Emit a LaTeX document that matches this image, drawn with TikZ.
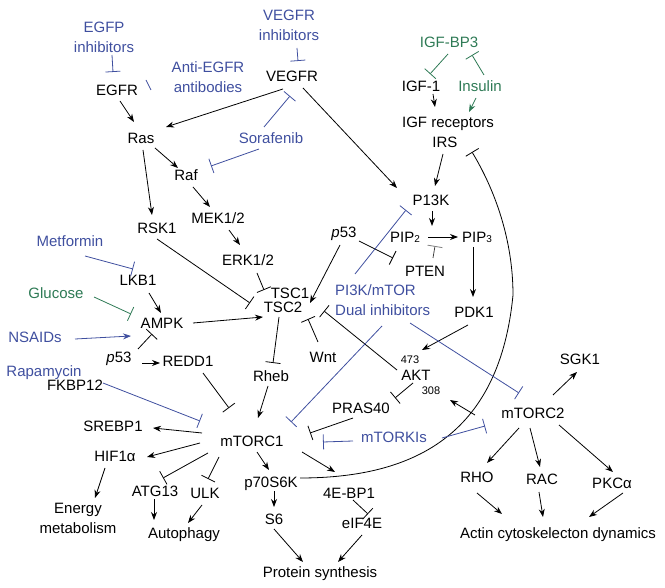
\documentclass[tikz,border=0pt]{standalone}
\usepackage{fontspec}
\setmainfont{Liberation Sans}
\usepackage{tikz}
\usetikzlibrary{calc}
\usetikzlibrary{arrows.meta}
\definecolor{drugblue}{RGB}{63,79,159}
\definecolor{natgreen}{RGB}{46,122,85}
\newcommand{\sub}[1]{{\fontsize{10}{10}\selectfont #1}}

\begin{document}
\begin{tikzpicture}[x=1pt,y=-1pt,
	act/.style={-{Stealth[length=8pt,width=6pt]}},
	inh/.style={-{Bar[width=15pt]}},
	drug/.style={text=drugblue},
	nat/.style={text=natgreen}]
		\useasboundingbox (0,0) rectangle (665,588);

		\begin{scope}[every node/.style={font=\fontsize{15}{20}\selectfont,inner sep=2pt,text height=10.8pt,text depth=0pt}]
		% receptors and upstream
		\node (egfr) at (117,90) {EGFR};
		\node (vegfr) at (292,76) {VEGFR};
		\node (ras) at (141,138) {Ras};
		\node (raf) at (186,175) {Raf};
		\node (rsk1) at (157,228) {RSK1};
		\node (mek) at (218,218) {MEK1/2};
		\node (erk) at (248,260) {ERK1/2};
		\node (igf1) at (421,86) {IGF-1};
		\node (igfr) at (448,122) {IGF receptors};
		\node (irs) at (445,142) {IRS};
		\node (p13k) at (431,200) {P13K};
		\node (pip2) at (405,237) {PIP\sub{2}};
		\node (pip3) at (477,237) {PIP\sub{3}};
		\node (pten) at (425,271) {PTEN};
		\node (pdk1) at (474,312) {PDK1};
		\node (p53a) at (344,232) {\textit{p}53};
		\node (tsc1) at (290,293) {TSC1};
		\node (tsc2) at (283,307) {TSC2};
		\node (lkb1) at (138,280) {LKB1};
		\node (ampk) at (162,323) {AMPK};
		\node (p53b) at (119,357) {\textit{p}53};
		\node (redd1) at (188,361) {REDD1};
		\node (fkbp12) at (75,385) {FKBP12};
		\node (rheb) at (271,376) {Rheb};
		\node (wnt) at (323,357) {Wnt};
		\node (akt) at (416,375) {AKT};
		\node[font=\fontsize{11}{11}\selectfont,text height=8pt] (l473) at (410,360) {473};
		\node[font=\fontsize{11}{11}\selectfont,text height=8pt] (l308) at (431,391) {308};
		\node (pras40) at (361,408) {PRAS40};
		% mTOR complexes and outputs
		\node (mtorc1) at (252,441) {mTORC1};
		\node (mtorc2) at (533,413) {mTORC2};
		\node (sgk1) at (580,359) {SGK1};
		\node (rho) at (477,477) {RHO};
		\node (rac) at (542,479) {RAC};
		\node (pkca) at (612,483) {PKCα};
		\node (actin) at (558,533) {Actin cytoskelecton dynamics};
		\node (srebp1) at (113,426) {SREBP1};
		\node (hif1a) at (115,456) {HIF1α};
		\node (atg13) at (155,491) {ATG13};
		\node (ulk) at (205,493) {ULK};
		\node (autophagy) at (184,533) {Autophagy};
		\node (p70s6k) at (271,482) {p70S6K};
		\node (s6) at (274,519) {S6};
		\node (protein) at (320,572) {Protein synthesis};
		\node (ebp1) at (349,493) {4E-BP1};
		\node (eif4e) at (362,523) {eIF4E};
		% drugs and other inputs
		\node[drug] (sorafenib) at (271,138) {Sorafenib};
		\node[nat] (igfbp3) at (449,42) {IGF-BP3};
		\node[nat] (insulin) at (480,86) {Insulin};
		\node[drug] (metformin) at (70,241) {Metformin};
		\node[nat] (glucose) at (56,293) {Glucose};
		\node[drug] (nsaids) at (35,337) {NSAIDs};
		\node[drug] (rapamycin) at (44,371) {Rapamycin};
		\node[drug] (mtorkis) at (394,437) {mTORKIs};
		\end{scope}

		\begin{scope}[every node/.style={font=\fontsize{15}{20}\selectfont,inner sep=2pt}]
		\node[drug,align=center] (egfpi) at (104,37) {EGFP\\inhibitors};
		\node[drug,align=center] (antiegfr) at (208,77) {Anti-EGFR\\antibodies};
		\node[drug,align=center] (vegfri) at (289,25) {VEGFR\\inhibitors};
		\node[drug,align=left,anchor=west] (pimtor) at (333,300) {PI3K/mTOR\\Dual inhibitors};
		\node[align=center] (energy) at (78,518) {Energy\\metabolism};
		\end{scope}

		\begin{scope}[every edge/.style={draw=black,line width=0.8pt}]
		\path [act] ($(egfr)+(3,11)$) edge ($(ras)+(-7,-16)$);
		\path [act] ($(vegfr)+(-9,13)$) edge ($(ras)+(25,-11)$);
		\path [act] ($(ras)+(14,10)$) edge ($(raf)+(-8,-7)$);
		\path [act] ($(ras)+(2,12)$) edge ($(rsk1)+(-5,-13)$);
		\path [act] ($(raf)+(7,12)$) edge ($(mek)+(-8,-11)$);
		\path [act] ($(mek)+(11,12)$) edge ($(erk)+(-8,-15)$);
		\path [act] ($(vegfr)+(11,12)$) edge ($(p13k)+(-34,-12)$);
		\path [act] ($(igf1)+(12,8)$) edge ($(igfr)+(-13,-15)$);
		\path [act] ($(irs)+(-2,12)$) edge ($(p13k)+(4,-14)$);
		\path [act] ($(p13k)+(1,11)$) edge ($(pip2)+(27,-11)$);
		\path [act] ($(pip2)+(23,0)$) edge ($(pip3)+(-19,0)$);
		\path [act] ($(pip3)+(-4,10)$) edge ($(pdk1)+(-1,-15)$);
		\path [act] ($(pdk1)+(-6,13)$) edge ($(akt)+(6,-25)$);
		\path [act] ($(p53a)+(-4,13)$) edge ($(tsc2)+(27,-4)$);
		\path [act] ($(lkb1)+(11,13)$) edge ($(ampk)+(-1,-10)$);
		\path [act] ($(ampk)+(31,0)$) edge ($(tsc2)+(-20,10)$);
		\path [act] ($(p53b)+(23,6)$) edge ($(redd1)+(-28,2)$);
		\path [act] ($(rheb)+(-3,10)$) edge ($(mtorc1)+(6,-23)$);
		\path [act] ($(mtorc2)+(-58,2)$) edge ($(akt)+(34,25)$);
		\path [act] ($(mtorc2)+(20,-18)$) edge ($(sgk1)+(-3,13)$);
		\path [act] ($(mtorc2)+(-14,15)$) edge ($(rho)+(10,-14)$);
		\path [act] ($(mtorc2)+(-3,15)$) edge ($(rac)+(-2,-12)$);
		\path [act] ($(mtorc2)+(26,12)$) edge ($(pkca)+(1,-11)$);
		\path [act] ($(rho)+(0,16)$) edge ($(actin)+(-56,-19)$);
		\path [act] ($(rac)+(-3,13)$) edge ($(actin)+(-15,-16)$);
		\path [act] ($(pkca)+(11,10)$) edge ($(actin)+(31,-16)$);
		\path [act] ($(mtorc1)+(-50,-8)$) edge ($(srebp1)+(40,2)$);
		\path [act] ($(mtorc1)+(-52,2)$) edge ($(hif1a)+(32,1)$);
		\path [act] ($(hif1a)+(-10,12)$) edge ($(energy)+(17,-20)$);
		\path [act] ($(atg13)+(-1,8)$) edge ($(autophagy)+(-30,-13)$);
		\path [act] ($(ulk)+(-3,12)$) edge ($(autophagy)+(4,-10)$);
		\path [act] ($(mtorc1)+(5,11)$) edge ($(p70s6k)+(-2,-12)$);
		\path [act] ($(p70s6k)+(3,9)$) edge ($(s6)+(0,-12)$);
		\path [act] ($(s6)+(0,10)$) edge ($(protein)+(-17,-10)$);
		\path [act] ($(mtorc1)+(50,11)$) edge ($(ebp1)+(-14,-21)$);
		\path [act] ($(eif4e)+(0,12)$) edge ($(protein)+(18,-10)$);

		\path [inh] ($(p53a)+(15,9)$) edge ($(pip2)+(-12,21)$);
		\path [inh] ($(erk)+(9,13)$) edge ($(tsc1)+(-26,-3)$);
		\path [inh] ($(rsk1)+(0,11)$) edge ($(tsc2)+(-33,-4)$);
		\path [inh] ($(p53b)+(19,-8)$) edge ($(ampk)+(-10,11)$);
		\path [inh] ($(tsc2)+(-4,10)$) edge ($(rheb)+(2,-13)$);
		\path [inh] ($(wnt)+(-5,-15)$) edge ($(tsc2)+(25,12)$);
		\path [inh] ($(akt)+(-19,-5)$) edge ($(tsc2)+(41,4)$);
		\path [inh] ($(akt)+(-3,8)$) edge ($(pras40)+(34,-10)$);
		\path [inh] ($(pras40)+(-8,10)$) edge ($(mtorc1)+(58,-8)$);
		\path [inh] ($(redd1)+(15,12)$) edge ($(mtorc1)+(-23,-33)$);
		\path [inh] ($(mtorc1)+(-44,12)$) edge ($(atg13)+(8,-13)$);
		\path [inh] ($(mtorc1)+(-33,16)$) edge ($(ulk)+(3,-14)$);
		\path [inh] ($(ebp1)+(4,7)$) edge ($(eif4e)+(6,-9)$);
		\path [-{Bar[width=15pt,color=gray]}] ($(pten)+(8,-13)$) edge[draw=black!75] ($(pip2)+(30,9)$);
		\end{scope}

		% feedback from p70S6K to IRS
		\coordinate (bend) at (513,295);
		\draw [inh, line width=0.8pt] ($(p70s6k)+(29,-4)$) .. controls (420,478) and (500,430) .. (bend)
			.. controls (513,240) and (495,190) .. ($(irs)+(27,10)$);

		\begin{scope}[every edge/.style={draw=drugblue,line width=0.8pt}]
		\path ($(antiegfr)+(-62,3)$) edge ($(antiegfr)+(-57,13)$);
		\path [inh] ($(egfpi)+(8,18)$) edge ($(egfr)+(-4,-18)$);
		\path [inh] ($(vegfri)+(8,23)$) edge ($(vegfr)+(6,-15)$);
		\path [inh] ($(sorafenib)+(-7,-11)$) edge ($(vegfr)+(-2,20)$);
		\path [inh] ($(sorafenib)+(-12,11)$) edge ($(raf)+(25,-9)$);
		\path [inh] ($(metformin)+(15,15)$) edge ($(lkb1)+(-5,-11)$);
		\path [act] ($(nsaids)+(40,2)$) edge ($(ampk)+(-31,13)$);
		\path [inh] ($(pimtor.west)+(22,-26)$) edge ($(p13k)+(-25,10)$);
		\path [inh] ($(pimtor.west)+(49,26)$) edge ($(mtorc1)+(39,-19)$);
		\path [inh] ($(pimtor.west)+(77,23)$) edge ($(mtorc2)+(-14,-20)$);
		\path [inh] ($(mtorkis)+(-41,4)$) edge ($(mtorc1)+(71,1)$);
		\path [inh] ($(mtorkis)+(48,1)$) edge ($(mtorc2)+(-48,13)$);
		\path [inh] ($(fkbp12)+(28,-2)$) edge ($(mtorc1)+(-52,-20)$);
		\end{scope}

		\begin{scope}[every edge/.style={draw=natgreen,line width=0.8pt}]
		\path [inh] ($(igfbp3)+(-1,12)$) edge ($(igf1)+(9,-12)$);
		\path [inh] ($(insulin)+(4,-11)$) edge ($(igfbp3)+(23,13)$);
		\path [inh] ($(glucose)+(38,4)$) edge ($(ampk)+(-31,-9)$);
		\path [act] ($(insulin)+(-4,12)$) edge ($(igfr)+(21,-10)$);
		\end{scope}
\end{tikzpicture}
\end{document}
